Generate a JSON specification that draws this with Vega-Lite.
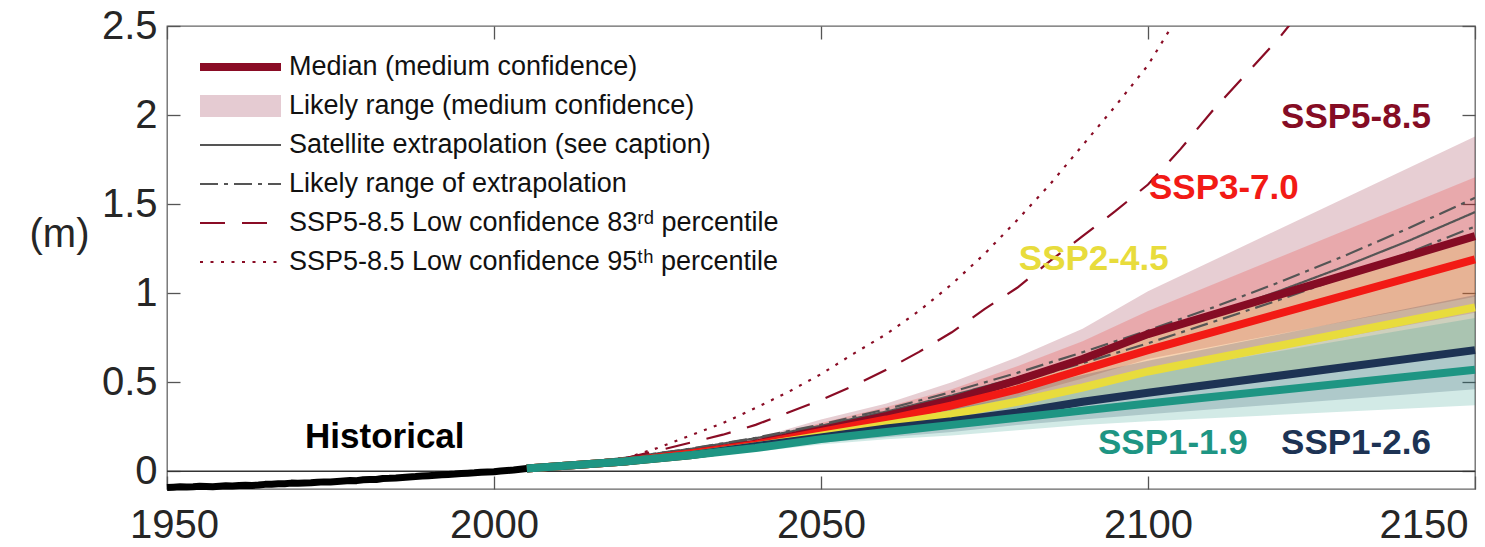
{
  "$schema": "https://vega.github.io/schema/vega-lite/v6.json",
  "width": 1308,
  "height": 463,
  "autosize": {"type": "none"},
  "padding": {"left": 167, "top": 26, "right": 10, "bottom": 58},
  "background": "white",
  "config": {
    "view": {"stroke": "#666666", "strokeWidth": 1.3},
    "font": "Liberation Sans",
    "axis": {"grid": false, "domain": false, "tickColor": "#555555", "tickWidth": 1.3, "labelFont": "Liberation Sans", "labelColor": "#262626", "labelFontSize": 40}
  },
  "datasets": {
    "proj": [
      {"scenario": "SSP5-8.5", "year": 2005, "med": 0.015, "lo": 0.015, "hi": 0.015},
      {"scenario": "SSP5-8.5", "year": 2020, "med": 0.055, "lo": 0.05, "hi": 0.07},
      {"scenario": "SSP5-8.5", "year": 2030, "med": 0.10, "lo": 0.09, "hi": 0.12},
      {"scenario": "SSP5-8.5", "year": 2040, "med": 0.155, "lo": 0.13, "hi": 0.185},
      {"scenario": "SSP5-8.5", "year": 2050, "med": 0.23, "lo": 0.20, "hi": 0.29},
      {"scenario": "SSP5-8.5", "year": 2060, "med": 0.31, "lo": 0.26, "hi": 0.38},
      {"scenario": "SSP5-8.5", "year": 2070, "med": 0.40, "lo": 0.34, "hi": 0.50},
      {"scenario": "SSP5-8.5", "year": 2080, "med": 0.51, "lo": 0.42, "hi": 0.64},
      {"scenario": "SSP5-8.5", "year": 2090, "med": 0.63, "lo": 0.52, "hi": 0.80},
      {"scenario": "SSP5-8.5", "year": 2100, "med": 0.77, "lo": 0.63, "hi": 1.01},
      {"scenario": "SSP5-8.5", "year": 2150, "med": 1.32, "lo": 0.98, "hi": 1.88},
      {"scenario": "SSP3-7.0", "year": 2005, "med": 0.015, "lo": 0.015, "hi": 0.015},
      {"scenario": "SSP3-7.0", "year": 2020, "med": 0.055, "lo": 0.05, "hi": 0.07},
      {"scenario": "SSP3-7.0", "year": 2030, "med": 0.10, "lo": 0.085, "hi": 0.12},
      {"scenario": "SSP3-7.0", "year": 2040, "med": 0.15, "lo": 0.13, "hi": 0.18},
      {"scenario": "SSP3-7.0", "year": 2050, "med": 0.22, "lo": 0.18, "hi": 0.27},
      {"scenario": "SSP3-7.0", "year": 2060, "med": 0.29, "lo": 0.24, "hi": 0.36},
      {"scenario": "SSP3-7.0", "year": 2070, "med": 0.37, "lo": 0.30, "hi": 0.46},
      {"scenario": "SSP3-7.0", "year": 2080, "med": 0.46, "lo": 0.38, "hi": 0.59},
      {"scenario": "SSP3-7.0", "year": 2090, "med": 0.57, "lo": 0.46, "hi": 0.73},
      {"scenario": "SSP3-7.0", "year": 2100, "med": 0.68, "lo": 0.55, "hi": 0.90},
      {"scenario": "SSP3-7.0", "year": 2150, "med": 1.19, "lo": 0.89, "hi": 1.65},
      {"scenario": "SSP2-4.5", "year": 2005, "med": 0.015, "lo": 0.015, "hi": 0.015},
      {"scenario": "SSP2-4.5", "year": 2020, "med": 0.055, "lo": 0.05, "hi": 0.07},
      {"scenario": "SSP2-4.5", "year": 2030, "med": 0.09, "lo": 0.08, "hi": 0.12},
      {"scenario": "SSP2-4.5", "year": 2040, "med": 0.14, "lo": 0.12, "hi": 0.17},
      {"scenario": "SSP2-4.5", "year": 2050, "med": 0.20, "lo": 0.17, "hi": 0.26},
      {"scenario": "SSP2-4.5", "year": 2060, "med": 0.26, "lo": 0.21, "hi": 0.33},
      {"scenario": "SSP2-4.5", "year": 2070, "med": 0.32, "lo": 0.26, "hi": 0.42},
      {"scenario": "SSP2-4.5", "year": 2080, "med": 0.39, "lo": 0.31, "hi": 0.51},
      {"scenario": "SSP2-4.5", "year": 2090, "med": 0.47, "lo": 0.37, "hi": 0.63},
      {"scenario": "SSP2-4.5", "year": 2100, "med": 0.56, "lo": 0.44, "hi": 0.76},
      {"scenario": "SSP2-4.5", "year": 2150, "med": 0.92, "lo": 0.66, "hi": 1.33},
      {"scenario": "SSP1-2.6", "year": 2005, "med": 0.015, "lo": 0.015, "hi": 0.015},
      {"scenario": "SSP1-2.6", "year": 2020, "med": 0.055, "lo": 0.05, "hi": 0.07},
      {"scenario": "SSP1-2.6", "year": 2030, "med": 0.09, "lo": 0.08, "hi": 0.12},
      {"scenario": "SSP1-2.6", "year": 2040, "med": 0.14, "lo": 0.12, "hi": 0.17},
      {"scenario": "SSP1-2.6", "year": 2050, "med": 0.19, "lo": 0.16, "hi": 0.25},
      {"scenario": "SSP1-2.6", "year": 2060, "med": 0.24, "lo": 0.19, "hi": 0.31},
      {"scenario": "SSP1-2.6", "year": 2070, "med": 0.28, "lo": 0.22, "hi": 0.38},
      {"scenario": "SSP1-2.6", "year": 2080, "med": 0.33, "lo": 0.26, "hi": 0.46},
      {"scenario": "SSP1-2.6", "year": 2090, "med": 0.39, "lo": 0.29, "hi": 0.54},
      {"scenario": "SSP1-2.6", "year": 2100, "med": 0.44, "lo": 0.32, "hi": 0.62},
      {"scenario": "SSP1-2.6", "year": 2150, "med": 0.68, "lo": 0.46, "hi": 0.99},
      {"scenario": "SSP1-1.9", "year": 2005, "med": 0.015, "lo": 0.015, "hi": 0.015},
      {"scenario": "SSP1-1.9", "year": 2020, "med": 0.055, "lo": 0.05, "hi": 0.07},
      {"scenario": "SSP1-1.9", "year": 2030, "med": 0.09, "lo": 0.08, "hi": 0.12},
      {"scenario": "SSP1-1.9", "year": 2040, "med": 0.13, "lo": 0.11, "hi": 0.16},
      {"scenario": "SSP1-1.9", "year": 2050, "med": 0.18, "lo": 0.15, "hi": 0.23},
      {"scenario": "SSP1-1.9", "year": 2060, "med": 0.22, "lo": 0.18, "hi": 0.29},
      {"scenario": "SSP1-1.9", "year": 2070, "med": 0.26, "lo": 0.20, "hi": 0.35},
      {"scenario": "SSP1-1.9", "year": 2080, "med": 0.30, "lo": 0.23, "hi": 0.42},
      {"scenario": "SSP1-1.9", "year": 2090, "med": 0.34, "lo": 0.26, "hi": 0.48},
      {"scenario": "SSP1-1.9", "year": 2100, "med": 0.38, "lo": 0.28, "hi": 0.55},
      {"scenario": "SSP1-1.9", "year": 2150, "med": 0.57, "lo": 0.37, "hi": 0.86}
    ],
    "hist": [
      {"year": 1950, "value": -0.092}, {"year": 1951, "value": -0.090}, {"year": 1952, "value": -0.088}, {"year": 1953, "value": -0.089},
      {"year": 1954, "value": -0.087}, {"year": 1955, "value": -0.084}, {"year": 1956, "value": -0.086}, {"year": 1957, "value": -0.088},
      {"year": 1958, "value": -0.085}, {"year": 1959, "value": -0.082}, {"year": 1960, "value": -0.083}, {"year": 1961, "value": -0.080},
      {"year": 1962, "value": -0.079}, {"year": 1963, "value": -0.080}, {"year": 1964, "value": -0.078}, {"year": 1965, "value": -0.074},
      {"year": 1966, "value": -0.073}, {"year": 1967, "value": -0.071}, {"year": 1968, "value": -0.070}, {"year": 1969, "value": -0.067},
      {"year": 1970, "value": -0.068}, {"year": 1971, "value": -0.066}, {"year": 1972, "value": -0.065}, {"year": 1973, "value": -0.062},
      {"year": 1974, "value": -0.060}, {"year": 1975, "value": -0.061}, {"year": 1976, "value": -0.058}, {"year": 1977, "value": -0.055},
      {"year": 1978, "value": -0.052}, {"year": 1979, "value": -0.053}, {"year": 1980, "value": -0.048}, {"year": 1981, "value": -0.046},
      {"year": 1982, "value": -0.047}, {"year": 1983, "value": -0.041}, {"year": 1984, "value": -0.040}, {"year": 1985, "value": -0.038},
      {"year": 1986, "value": -0.035}, {"year": 1987, "value": -0.032}, {"year": 1988, "value": -0.030}, {"year": 1989, "value": -0.027},
      {"year": 1990, "value": -0.025}, {"year": 1991, "value": -0.023}, {"year": 1992, "value": -0.020}, {"year": 1993, "value": -0.018},
      {"year": 1994, "value": -0.016}, {"year": 1995, "value": -0.013}, {"year": 1996, "value": -0.011}, {"year": 1997, "value": -0.009},
      {"year": 1998, "value": -0.006}, {"year": 1999, "value": -0.004}, {"year": 2000, "value": -0.003}, {"year": 2001, "value": 0.001},
      {"year": 2002, "value": 0.004}, {"year": 2003, "value": 0.007}, {"year": 2004, "value": 0.011}, {"year": 2005, "value": 0.015}
    ],
    "extra": [
      {"item": "Satellite extrapolation (see caption)", "series": "sat", "year": 2005, "value": 0.015},
      {"item": "Satellite extrapolation (see caption)", "series": "sat", "year": 2020, "value": 0.075},
      {"item": "Satellite extrapolation (see caption)", "series": "sat", "year": 2030, "value": 0.125},
      {"item": "Satellite extrapolation (see caption)", "series": "sat", "year": 2040, "value": 0.185},
      {"item": "Satellite extrapolation (see caption)", "series": "sat", "year": 2050, "value": 0.255},
      {"item": "Satellite extrapolation (see caption)", "series": "sat", "year": 2060, "value": 0.335},
      {"item": "Satellite extrapolation (see caption)", "series": "sat", "year": 2070, "value": 0.425},
      {"item": "Satellite extrapolation (see caption)", "series": "sat", "year": 2080, "value": 0.525},
      {"item": "Satellite extrapolation (see caption)", "series": "sat", "year": 2090, "value": 0.637},
      {"item": "Satellite extrapolation (see caption)", "series": "sat", "year": 2100, "value": 0.755},
      {"item": "Satellite extrapolation (see caption)", "series": "sat", "year": 2110, "value": 0.882},
      {"item": "Satellite extrapolation (see caption)", "series": "sat", "year": 2120, "value": 1.011},
      {"item": "Satellite extrapolation (see caption)", "series": "sat", "year": 2130, "value": 1.149},
      {"item": "Satellite extrapolation (see caption)", "series": "sat", "year": 2140, "value": 1.296},
      {"item": "Satellite extrapolation (see caption)", "series": "sat", "year": 2150, "value": 1.455},
      {"item": "Likely range of extrapolation", "series": "up", "year": 2005, "value": 0.015},
      {"item": "Likely range of extrapolation", "series": "up", "year": 2020, "value": 0.075},
      {"item": "Likely range of extrapolation", "series": "up", "year": 2030, "value": 0.126},
      {"item": "Likely range of extrapolation", "series": "up", "year": 2040, "value": 0.188},
      {"item": "Likely range of extrapolation", "series": "up", "year": 2050, "value": 0.262},
      {"item": "Likely range of extrapolation", "series": "up", "year": 2060, "value": 0.348},
      {"item": "Likely range of extrapolation", "series": "up", "year": 2070, "value": 0.445},
      {"item": "Likely range of extrapolation", "series": "up", "year": 2080, "value": 0.552},
      {"item": "Likely range of extrapolation", "series": "up", "year": 2090, "value": 0.668},
      {"item": "Likely range of extrapolation", "series": "up", "year": 2100, "value": 0.790},
      {"item": "Likely range of extrapolation", "series": "up", "year": 2110, "value": 0.920},
      {"item": "Likely range of extrapolation", "series": "up", "year": 2120, "value": 1.060},
      {"item": "Likely range of extrapolation", "series": "up", "year": 2130, "value": 1.209},
      {"item": "Likely range of extrapolation", "series": "up", "year": 2140, "value": 1.367},
      {"item": "Likely range of extrapolation", "series": "up", "year": 2150, "value": 1.535},
      {"item": "Likely range of extrapolation", "series": "low", "year": 2005, "value": 0.015},
      {"item": "Likely range of extrapolation", "series": "low", "year": 2020, "value": 0.074},
      {"item": "Likely range of extrapolation", "series": "low", "year": 2030, "value": 0.122},
      {"item": "Likely range of extrapolation", "series": "low", "year": 2040, "value": 0.180},
      {"item": "Likely range of extrapolation", "series": "low", "year": 2050, "value": 0.246},
      {"item": "Likely range of extrapolation", "series": "low", "year": 2060, "value": 0.322},
      {"item": "Likely range of extrapolation", "series": "low", "year": 2070, "value": 0.406},
      {"item": "Likely range of extrapolation", "series": "low", "year": 2080, "value": 0.502},
      {"item": "Likely range of extrapolation", "series": "low", "year": 2090, "value": 0.607},
      {"item": "Likely range of extrapolation", "series": "low", "year": 2100, "value": 0.718},
      {"item": "Likely range of extrapolation", "series": "low", "year": 2110, "value": 0.839},
      {"item": "Likely range of extrapolation", "series": "low", "year": 2120, "value": 0.961},
      {"item": "Likely range of extrapolation", "series": "low", "year": 2130, "value": 1.091},
      {"item": "Likely range of extrapolation", "series": "low", "year": 2140, "value": 1.229},
      {"item": "Likely range of extrapolation", "series": "low", "year": 2150, "value": 1.374},
      {"item": "SSP5-8.5 Low confidence 83ʳᵈ percentile", "series": "p83", "year": 2020, "value": 0.072},
      {"item": "SSP5-8.5 Low confidence 83ʳᵈ percentile", "series": "p83", "year": 2025, "value": 0.115},
      {"item": "SSP5-8.5 Low confidence 83ʳᵈ percentile", "series": "p83", "year": 2030, "value": 0.16},
      {"item": "SSP5-8.5 Low confidence 83ʳᵈ percentile", "series": "p83", "year": 2035, "value": 0.205},
      {"item": "SSP5-8.5 Low confidence 83ʳᵈ percentile", "series": "p83", "year": 2040, "value": 0.26},
      {"item": "SSP5-8.5 Low confidence 83ʳᵈ percentile", "series": "p83", "year": 2045, "value": 0.33},
      {"item": "SSP5-8.5 Low confidence 83ʳᵈ percentile", "series": "p83", "year": 2050, "value": 0.40},
      {"item": "SSP5-8.5 Low confidence 83ʳᵈ percentile", "series": "p83", "year": 2055, "value": 0.48},
      {"item": "SSP5-8.5 Low confidence 83ʳᵈ percentile", "series": "p83", "year": 2060, "value": 0.57},
      {"item": "SSP5-8.5 Low confidence 83ʳᵈ percentile", "series": "p83", "year": 2065, "value": 0.67},
      {"item": "SSP5-8.5 Low confidence 83ʳᵈ percentile", "series": "p83", "year": 2070, "value": 0.78},
      {"item": "SSP5-8.5 Low confidence 83ʳᵈ percentile", "series": "p83", "year": 2075, "value": 0.91},
      {"item": "SSP5-8.5 Low confidence 83ʳᵈ percentile", "series": "p83", "year": 2080, "value": 1.03},
      {"item": "SSP5-8.5 Low confidence 83ʳᵈ percentile", "series": "p83", "year": 2085, "value": 1.18},
      {"item": "SSP5-8.5 Low confidence 83ʳᵈ percentile", "series": "p83", "year": 2090, "value": 1.32},
      {"item": "SSP5-8.5 Low confidence 83ʳᵈ percentile", "series": "p83", "year": 2095, "value": 1.46},
      {"item": "SSP5-8.5 Low confidence 83ʳᵈ percentile", "series": "p83", "year": 2100, "value": 1.61},
      {"item": "SSP5-8.5 Low confidence 83ʳᵈ percentile", "series": "p83", "year": 2105, "value": 1.81},
      {"item": "SSP5-8.5 Low confidence 83ʳᵈ percentile", "series": "p83", "year": 2110, "value": 2.03},
      {"item": "SSP5-8.5 Low confidence 83ʳᵈ percentile", "series": "p83", "year": 2115, "value": 2.23},
      {"item": "SSP5-8.5 Low confidence 83ʳᵈ percentile", "series": "p83", "year": 2120, "value": 2.43},
      {"item": "SSP5-8.5 Low confidence 83ʳᵈ percentile", "series": "p83", "year": 2125, "value": 2.66},
      {"item": "SSP5-8.5 Low confidence 95ᵗʰ percentile", "series": "p95", "year": 2020, "value": 0.072},
      {"item": "SSP5-8.5 Low confidence 95ᵗʰ percentile", "series": "p95", "year": 2025, "value": 0.13},
      {"item": "SSP5-8.5 Low confidence 95ᵗʰ percentile", "series": "p95", "year": 2030, "value": 0.20},
      {"item": "SSP5-8.5 Low confidence 95ᵗʰ percentile", "series": "p95", "year": 2035, "value": 0.27},
      {"item": "SSP5-8.5 Low confidence 95ᵗʰ percentile", "series": "p95", "year": 2040, "value": 0.355},
      {"item": "SSP5-8.5 Low confidence 95ᵗʰ percentile", "series": "p95", "year": 2045, "value": 0.445},
      {"item": "SSP5-8.5 Low confidence 95ᵗʰ percentile", "series": "p95", "year": 2050, "value": 0.545},
      {"item": "SSP5-8.5 Low confidence 95ᵗʰ percentile", "series": "p95", "year": 2055, "value": 0.66},
      {"item": "SSP5-8.5 Low confidence 95ᵗʰ percentile", "series": "p95", "year": 2060, "value": 0.77},
      {"item": "SSP5-8.5 Low confidence 95ᵗʰ percentile", "series": "p95", "year": 2065, "value": 0.90},
      {"item": "SSP5-8.5 Low confidence 95ᵗʰ percentile", "series": "p95", "year": 2070, "value": 1.05},
      {"item": "SSP5-8.5 Low confidence 95ᵗʰ percentile", "series": "p95", "year": 2075, "value": 1.22},
      {"item": "SSP5-8.5 Low confidence 95ᵗʰ percentile", "series": "p95", "year": 2080, "value": 1.41},
      {"item": "SSP5-8.5 Low confidence 95ᵗʰ percentile", "series": "p95", "year": 2085, "value": 1.61},
      {"item": "SSP5-8.5 Low confidence 95ᵗʰ percentile", "series": "p95", "year": 2090, "value": 1.83},
      {"item": "SSP5-8.5 Low confidence 95ᵗʰ percentile", "series": "p95", "year": 2095, "value": 2.05},
      {"item": "SSP5-8.5 Low confidence 95ᵗʰ percentile", "series": "p95", "year": 2100, "value": 2.28},
      {"item": "SSP5-8.5 Low confidence 95ᵗʰ percentile", "series": "p95", "year": 2105, "value": 2.58},
      {"item": "SSP5-8.5 Low confidence 95ᵗʰ percentile", "series": "p95", "year": 2110, "value": 2.90}
    ],
    "labels": [
      {"label": "Historical", "scenario": "Historical", "year": 1983.3, "value": 0.128},
      {"label": "SSP1-1.9", "scenario": "SSP1-1.9", "year": 2103.8, "value": 0.095},
      {"label": "SSP1-2.6", "scenario": "SSP1-2.6", "year": 2131.8, "value": 0.095},
      {"label": "SSP2-4.5", "scenario": "SSP2-4.5", "year": 2091.7, "value": 1.13},
      {"label": "SSP3-7.0", "scenario": "SSP3-7.0", "year": 2111.6, "value": 1.53},
      {"label": "SSP5-8.5", "scenario": "SSP5-8.5", "year": 2131.8, "value": 1.927}
    ]
  },
  "resolve": {"axis": {"x": "independent", "y": "independent"}},
  "layer": [
    {
      "data": {"values": [{"ref": 0}]},
      "mark": {"type": "rule", "color": "#333333", "strokeWidth": 1.4},
      "encoding": {
        "y": {"field": "ref", "type": "quantitative", "scale": {"domain": [-0.1, 2.5], "nice": false, "zero": false}, "axis": null}
      }
    },
    {
      "data": {"name": "proj"},
      "mark": {"type": "area", "opacity": 0.2},
      "encoding": {
        "x": {"field": "year", "type": "quantitative", "scale": {"domain": [1950, 2150], "nice": false, "zero": false},
          "axis": {"orient": "bottom", "values": [1950, 2000, 2050, 2100, 2150], "format": "d", "title": null, "tickSize": -13,
            "labelPadding": 29, "labelFlush": false, "labelOverlap": false,
            "labelAlign": {"condition": {"test": "datum.value === 2150", "value": "right"}, "value": "center"},
            "labelOffset": {"condition": [{"test": "datum.value === 1950", "value": 7}, {"test": "datum.value === 2150", "value": -7}], "value": 0}}},
        "y": {"field": "lo", "type": "quantitative", "scale": {"domain": [-0.1, 2.5], "nice": false, "zero": false},
          "axis": {"orient": "left", "values": [0, 0.5, 1, 1.5, 2, 2.5], "format": ".1~f", "tickSize": -13, "labelPadding": 23,
            "title": "(m)", "titleAngle": 0, "titleX": -108, "titleY": 208, "titleAlign": "center", "titleBaseline": "middle",
            "titleFontSize": 40, "titleFontWeight": "normal", "titleFont": "Liberation Sans", "titleColor": "#262626"}},
        "y2": {"field": "hi"},
        "color": {"field": "scenario", "type": "nominal", "legend": null,
          "scale": {"domain": ["SSP5-8.5", "SSP3-7.0", "SSP2-4.5", "SSP1-2.6", "SSP1-1.9", "Historical"],
            "range": ["#850c24", "#f21a15", "#e8dc3c", "#1d3354", "#1e9583", "#000000"]}}
      }
    },
    {
      "data": {"name": "extra"},
      "mark": {"type": "line", "strokeWidth": 2.2, "clip": true, "strokeCap": "butt"},
      "encoding": {
        "x": {"field": "year", "type": "quantitative", "axis": null},
        "y": {"field": "value", "type": "quantitative", "axis": null},
        "detail": {"field": "series"},
        "stroke": {"field": "item", "type": "nominal",
          "scale": {"domain": ["Median (medium confidence)", "Likely range (medium confidence)", "Satellite extrapolation (see caption)", "Likely range of extrapolation", "SSP5-8.5 Low confidence 83ʳᵈ percentile", "SSP5-8.5 Low confidence 95ᵗʰ percentile"],
            "range": ["#8a0c25", "#e5cbd2", "#555555", "#555555", "#8a0c25", "#8a0c25"]},
          "legend": {"orient": "none", "legendX": 33, "legendY": 28, "title": null, "symbolType": "stroke", "symbolSize": 6561,
            "symbolOffset": 27, "labelFontSize": 27, "labelFont": "Liberation Sans", "labelColor": "#111111", "labelOffset": 35, "labelLimit": 900,
            "rowPadding": 12, "clipHeight": 26, "padding": 0,
            "encode": {"symbols": {"update": {"strokeWidth": {"signal": "datum.value === 'Median (medium confidence)' ? 8 : datum.value === 'Likely range (medium confidence)' ? 22 : 2.2"}}}}}},
        "strokeDash": {"field": "item", "type": "nominal",
          "scale": {"domain": ["Median (medium confidence)", "Likely range (medium confidence)", "Satellite extrapolation (see caption)", "Likely range of extrapolation", "SSP5-8.5 Low confidence 83ʳᵈ percentile", "SSP5-8.5 Low confidence 95ᵗʰ percentile"],
            "range": [[1, 0], [1, 0], [1, 0], [18, 6, 4, 6], [25, 17], [3, 7.5]]}}
      }
    },
    {
      "data": {"name": "proj"},
      "mark": {"type": "line", "strokeWidth": 8, "strokeCap": "butt"},
      "encoding": {
        "x": {"field": "year", "type": "quantitative", "axis": null},
        "y": {"field": "med", "type": "quantitative", "axis": null},
        "color": {"field": "scenario", "type": "nominal", "legend": null}
      }
    },
    {
      "data": {"name": "hist"},
      "mark": {"type": "line", "strokeWidth": 7, "color": "#000000", "strokeJoin": "round"},
      "encoding": {
        "x": {"field": "year", "type": "quantitative",
          "axis": {"orient": "top", "values": [1950, 2000, 2050, 2100, 2150], "labels": false, "title": null, "tickSize": -13}},
        "y": {"field": "value", "type": "quantitative",
          "axis": {"orient": "right", "values": [0, 0.5, 1, 1.5, 2, 2.5], "labels": false, "title": null, "tickSize": -13}}
      }
    },
    {
      "data": {"name": "labels"},
      "mark": {"type": "text", "font": "Liberation Sans", "fontWeight": "bold", "fontSize": 35, "align": "center", "baseline": "alphabetic"},
      "encoding": {
        "x": {"field": "year", "type": "quantitative", "axis": null},
        "y": {"field": "value", "type": "quantitative", "axis": null},
        "text": {"field": "label"},
        "color": {"field": "scenario", "type": "nominal", "legend": null}
      }
    }
  ]
}
